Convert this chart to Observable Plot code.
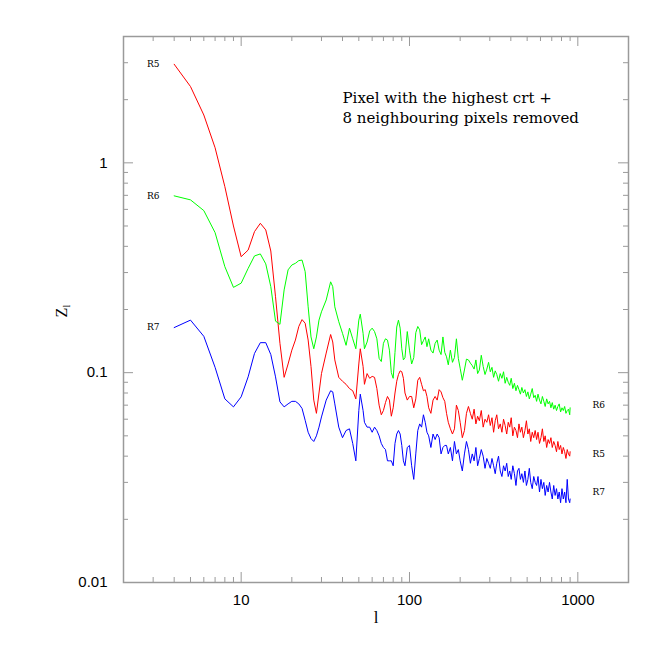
<!DOCTYPE html>
<html><head><meta charset="utf-8">
<script src="https://cdn.jsdelivr.net/npm/d3@7"></script>
<script src="https://cdn.jsdelivr.net/npm/@observablehq/plot@0.6"></script>
<style>body{margin:0;background:#fff}</style>
</head><body><div id="chart"></div>
<script>
// multipole l grid
const ells = [4,5,6,7,8,9,10,11,12,13,14,15,16,17,18,19,20,21,22,23,24,25,26,27,28,29,30,
  32,34,35,36,38,40,42,44,46,48,50,51,53,54,56,58,60,
  62,64,66,68,70,72,74,76,78,80,82,84,86,88,90,92,94,97,100,
  103,106,109,112,115,118,121,124,127,130,
  134,138,142,146,150,154,158,162,166,170,
  175,180,185,190,195,200,
  206,212,218,224,230,
  236,242,248,254,260,267,274,281,288,295,
  302,309,316,323,330,338,346,354,362,370,
  378,386,394,402,411,420,429,438,447,456,
  465,475,485,495,505,515,525,536,547,558,
  569,580,592,604,616,628,640,653,666,679,
  692,705,719,733,747,761,775,790,805,820,
  835,850,865,880,895,900];
const r5 = [2.95,2.31,1.69,1.18,0.77,0.50,0.357,0.384,0.47,0.515,0.479,0.38,0.23,0.138,0.095,0.11,0.128,0.143,0.166,0.179,0.172,0.143,0.107,0.074,0.064,0.08,0.099,
  0.124,0.152,0.14,0.115,0.095,0.091,0.088,0.084,0.082,0.075,0.11,0.13,0.107,0.088,0.099,0.094,0.096,
  0.095,0.084,0.07,0.063,0.066,0.072,0.077,0.074,0.062,0.068,0.08,0.091,0.098,0.102,0.101,0.094,0.08,0.074,0.077,
  0.077,0.068,0.075,0.092,0.095,0.088,0.082,0.083,0.077,0.068,
  0.064,0.074,0.077,0.074,0.083,0.081,0.076,0.073,0.064,0.058,
  0.054,0.051,0.054,0.07,0.066,0.058,
  0.049,0.053,0.064,0.069,0.064,
  0.06,0.067,0.057,0.062,0.059,0.066,0.055,0.06,0.058,0.063,
  0.056,0.061,0.052,0.059,0.063,0.054,0.057,0.052,0.06,0.056,
  0.051,0.058,0.055,0.061,0.05,0.055,0.053,0.049,0.057,0.052,
  0.055,0.049,0.053,0.059,0.051,0.054,0.047,0.052,0.049,0.053,
  0.048,0.052,0.046,0.049,0.054,0.047,0.05,0.044,0.048,0.046,
  0.049,0.044,0.047,0.045,0.042,0.047,0.043,0.045,0.041,0.044,
  0.042,0.039,0.043,0.041,0.04,0.042];
const r6 = [0.696,0.666,0.592,0.465,0.32,0.255,0.267,0.314,0.36,0.368,0.33,0.257,0.176,0.17,0.248,0.309,0.326,0.332,0.342,0.344,0.303,0.206,0.148,0.13,0.148,0.178,0.195,
  0.222,0.271,0.257,0.206,0.175,0.154,0.135,0.163,0.145,0.13,0.178,0.19,0.154,0.13,0.14,0.158,0.163,
  0.157,0.145,0.117,0.113,0.138,0.145,0.143,0.128,0.1,0.094,0.125,0.165,0.178,0.163,0.13,0.115,0.118,0.157,0.128,
  0.11,0.118,0.155,0.166,0.16,0.136,0.142,0.148,0.133,0.145,
  0.128,0.124,0.138,0.143,0.128,0.122,0.148,0.125,0.119,0.109,
  0.128,0.112,0.118,0.145,0.117,0.105,
  0.092,0.103,0.116,0.115,0.111,
  0.108,0.104,0.115,0.099,0.103,0.121,0.107,0.098,0.104,0.112,
  0.101,0.106,0.095,0.102,0.098,0.091,0.099,0.094,0.101,0.089,
  0.095,0.09,0.087,0.094,0.084,0.089,0.082,0.087,0.083,0.079,
  0.085,0.08,0.083,0.077,0.081,0.075,0.079,0.084,0.076,0.078,
  0.073,0.079,0.074,0.071,0.077,0.073,0.069,0.075,0.071,0.073,
  0.068,0.072,0.067,0.07,0.066,0.069,0.071,0.065,0.068,0.066,
  0.069,0.064,0.066,0.067,0.063,0.068];
const r7 = [0.164,0.178,0.149,0.106,0.075,0.0687,0.0767,0.0955,0.1235,0.139,0.139,0.122,0.0955,0.0726,0.0687,0.071,0.073,0.073,0.071,0.0675,0.0593,0.052,0.0485,0.047,0.05,0.055,0.0615,
  0.074,0.082,0.081,0.071,0.055,0.049,0.053,0.054,0.046,0.038,0.066,0.079,0.066,0.058,0.055,0.055,0.052,
  0.055,0.053,0.05,0.046,0.044,0.043,0.038,0.038,0.038,0.036,0.046,0.051,0.053,0.051,0.045,0.038,0.036,0.044,0.045,
  0.036,0.031,0.041,0.053,0.057,0.055,0.063,0.058,0.052,0.05,
  0.044,0.051,0.048,0.051,0.049,0.041,0.044,0.045,0.045,0.041,
  0.044,0.038,0.047,0.041,0.043,0.038,
  0.034,0.041,0.047,0.043,0.037,
  0.041,0.038,0.044,0.036,0.039,0.043,0.04,0.035,0.039,0.037,
  0.035,0.039,0.036,0.033,0.037,0.04,0.034,0.032,0.036,0.034,
  0.037,0.032,0.034,0.031,0.036,0.033,0.029,0.034,0.035,0.031,
  0.033,0.03,0.034,0.029,0.031,0.035,0.03,0.028,0.032,0.03,
  0.029,0.032,0.027,0.031,0.028,0.03,0.026,0.029,0.027,0.03,
  0.027,0.025,0.029,0.026,0.028,0.025,0.027,0.024,0.028,0.025,
  0.027,0.024,0.031,0.025,0.024,0.025];
const seriesNames = ["R5","R6","R7"];
const seriesColors = ["#ff0000","#00ff00","#0000ff"];
const endLabelValues = [0.041, 0.07, 0.027];
const xMajorTicks = [10,100,1000];
const xMinorTicks = [3,4,5,6,7,8,9,20,30,40,50,60,70,80,90,200,300,400,500,600,700,800,900];
const yMajorTicks = [0.01,0.1,1];
const yMinorTicks = [0.02,0.03,0.04,0.05,0.06,0.07,0.08,0.09,0.2,0.3,0.4,0.5,0.6,0.7,0.8,0.9,2,3];
const noteLines = ["Pixel with the highest crt +","8 neighbouring pixels removed"];
const xLabel = "l";
const yLabelMain = "Z";
const yLabelSub = "l";

const W = 664, H = 664, mL = 123, mR = 36, mT = 36, mB = 82;
const innerW = W - mL - mR, innerH = H - mT - mB;
const allSeries = [r5, r6, r7];
const rows = [];
allSeries.forEach((vals, s) => ells.forEach((l, i) => rows.push({l, v: vals[i], name: seriesNames[s]})));
const startLabels = seriesNames.map((n, s) => ({name: n, v: allSeries[s][0]}));
const endLabels = seriesNames.map((n, s) => ({name: n, v: endLabelValues[s]}));
const gray = "#9a9a9a";
const serif = "'DejaVu Serif', serif";
const sans = "'Liberation Sans', Arial, sans-serif";

const chart = Plot.plot({
  width: W, height: H,
  marginLeft: mL, marginRight: mR, marginTop: mT, marginBottom: mB,
  x: {type: "log", domain: [2, 2000], label: null},
  y: {type: "log", domain: [0.01, 4], label: null},
  color: {domain: seriesNames, range: seriesColors},
  style: {background: "#fff"},
  marks: [
    Plot.ruleX(xMajorTicks, {x: d => d, insetTop: innerH - 10, stroke: gray}),
    Plot.ruleX(xMajorTicks, {x: d => d, insetBottom: innerH - 10, stroke: gray}),
    Plot.ruleX(xMinorTicks, {x: d => d, insetTop: innerH - 5, stroke: gray}),
    Plot.ruleX(xMinorTicks, {x: d => d, insetBottom: innerH - 5, stroke: gray}),
    Plot.ruleY(yMajorTicks, {y: d => d, insetRight: innerW - 10, stroke: gray}),
    Plot.ruleY(yMajorTicks, {y: d => d, insetLeft: innerW - 10, stroke: gray}),
    Plot.ruleY(yMinorTicks, {y: d => d, insetRight: innerW - 5, stroke: gray}),
    Plot.ruleY(yMinorTicks, {y: d => d, insetLeft: innerW - 5, stroke: gray}),
    Plot.frame({stroke: gray, strokeWidth: 1.5}),
    Plot.axisX({ticks: xMajorTicks, tickSize: 0, tickPadding: 12, tickFormat: d => `${d}`, fontSize: 15, fontFamily: sans, fill: "#000", label: null}),
    Plot.axisY({ticks: yMajorTicks, tickSize: 0, tickPadding: 16, tickFormat: d => `${d}`, fontSize: 15, fontFamily: sans, fill: "#000", label: null}),
    Plot.line(rows, {x: "l", y: "v", z: "name", stroke: "name", strokeWidth: 1}),
    Plot.text(startLabels, {x: 3, y: "v", text: "name", fontFamily: serif, fontSize: 9, fill: "#000"}),
    Plot.text(endLabels, {x: 1330, y: "v", text: "name", fontFamily: serif, fontSize: 9, fill: "#000"}),
    Plot.text(noteLines, {x: 40, y: (d, i) => [2.04, 1.64][i], text: d => d, textAnchor: "start", fontFamily: serif, fontSize: 15, fill: "#000"}),
    Plot.text([xLabel], {frameAnchor: "bottom", dy: 40, fontFamily: "'Liberation Serif', serif", fontSize: 17, fill: "#000"}),
    Plot.text([yLabelMain], {frameAnchor: "left", dx: -62, dy: 8, rotate: -90, fontFamily: "'Liberation Serif', serif", fontSize: 16, fill: "#000"}),
    Plot.text([yLabelSub], {frameAnchor: "left", dx: -57, dy: -2, rotate: -90, fontFamily: "'Liberation Serif', serif", fontSize: 10, fill: "#000"})
  ]
});
document.getElementById("chart").appendChild(chart);
</script>
</body></html>
